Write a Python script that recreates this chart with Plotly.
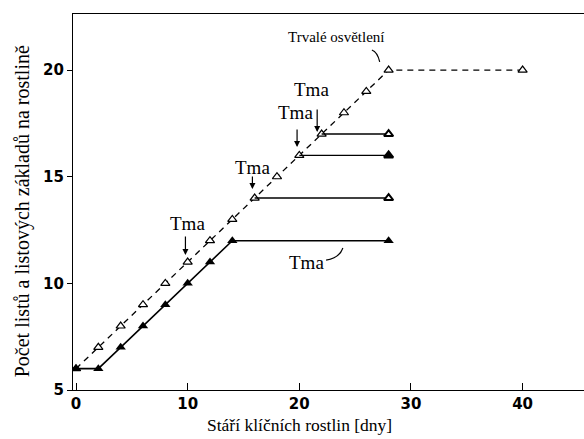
import plotly.graph_objects as go

# Data
light_days = [0, 2, 4, 6, 8, 10, 12, 14, 16, 18, 20, 22, 24, 26, 28, 40]
light_leaves = [6, 7, 8, 9, 10, 11, 12, 13, 14, 15, 16, 17, 18, 19, 20, 20]

dark_days = [0, 2, 4, 6, 8, 10, 12, 14, 28]
dark_leaves = [6, 6, 7, 8, 9, 10, 11, 12, 12]

branch_start_days = [16, 20, 22]
branch_levels = [14, 16, 17]
branch_end_day = 28
branch_end_filled = [False, True, False]

x_ticks = [0, 10, 20, 30, 40]
y_ticks = [5, 10, 15, 20]

serif = "Liberation Serif"
fig = go.Figure()

fig.add_trace(go.Scatter(
    x=light_days, y=light_leaves, mode="lines+markers",
    line=dict(color="black", width=1.3, dash="6px,5px"),
    marker=dict(symbol="triangle-up", size=8, color="white",
                line=dict(color="black", width=1.2)),
    showlegend=False))

for d, lv, filled in zip(branch_start_days, branch_levels, branch_end_filled):
    fig.add_trace(go.Scatter(
        x=[d, branch_end_day], y=[lv, lv], mode="lines",
        line=dict(color="black", width=1.4), showlegend=False))
    fig.add_trace(go.Scatter(
        x=[branch_end_day], y=[lv], mode="markers",
        marker=dict(symbol="triangle-up", size=8,
                    color="black" if filled else "white",
                    line=dict(color="black", width=2)),
        showlegend=False))

fig.add_trace(go.Scatter(
    x=dark_days, y=dark_leaves, mode="lines+markers",
    line=dict(color="black", width=1.6),
    marker=dict(symbol="triangle-up", size=9, color="black"),
    showlegend=False))

ann = []
def txt(x, y, t, size=19):
    ann.append(dict(x=x, y=y, xref="x", yref="y", text=t, showarrow=False,
                    xanchor="center", yanchor="middle",
                    font=dict(family=serif, size=size, color="black")))

def arrow(x, y0, y1):
    ann.append(dict(x=x, y=y1, ax=x, ay=y0, xref="x", yref="y",
                    axref="x", ayref="y", text="", showarrow=True,
                    arrowhead=2, arrowsize=1, arrowwidth=1.2,
                    arrowcolor="black"))

txt(10.0, 12.83, "Tma")
arrow(9.8, 12.27, 11.33)
txt(15.8, 15.41, "Tma")
arrow(15.8, 15.08, 14.42)
txt(19.7, 18.03, "Tma")
arrow(19.8, 17.28, 16.39)
txt(21.1, 19.11, "Tma")
arrow(21.6, 18.22, 17.1)
txt(20.6, 11.0, "Tma")
txt(23.3, 21.55, "Trvalé osvětlení", size=15)

ann.append(dict(x=0.444, y=-0.093, xref="paper", yref="paper",
                xanchor="center", yanchor="middle",
                text="Stáří klíčních rostlin [dny]", showarrow=False,
                font=dict(family=serif, size=17.5, color="black")))
ann.append(dict(x=-0.1, y=0.475, xref="paper", yref="paper",
                xanchor="center", yanchor="middle",
                text="Počet listů a listových základů na rostlině",
                textangle=-90, showarrow=False,
                font=dict(family=serif, size=20, color="black")))

shapes = [
    dict(type="path", xref="x", yref="y",
         path="M 22.4,11.09 Q 23.6,11.19 23.9,11.66",
         line=dict(color="black", width=1.2)),
    dict(type="path", xref="x", yref="y",
         path="M 26.5,20.94 Q 27.0,20.85 27.2,20.38",
         line=dict(color="black", width=1.2)),
]

fig.update_layout(
    width=584, height=439,
    margin=dict(l=73, r=0, t=14, b=49),
    paper_bgcolor="white", plot_bgcolor="white",
    annotations=ann, shapes=shapes,
    xaxis=dict(range=[-0.27, 45.5], tickvals=x_ticks, ticks="inside",
               ticklen=7, tickcolor="black", showline=True,
               linecolor="black", linewidth=1.2, mirror=True,
               showgrid=False, zeroline=False,
               tickfont=dict(family="DejaVu Sans", size=15, color="black",
                             weight="bold")),
    yaxis=dict(range=[5, 22.63], tickvals=y_ticks, ticks="outside",
               ticklen=5, tickcolor="black", showline=True,
               linecolor="black", linewidth=1.2,
               showgrid=False, zeroline=False,
               tickfont=dict(family="DejaVu Sans", size=15, color="black",
                             weight="bold")),
)

fig.write_html("out.html")
